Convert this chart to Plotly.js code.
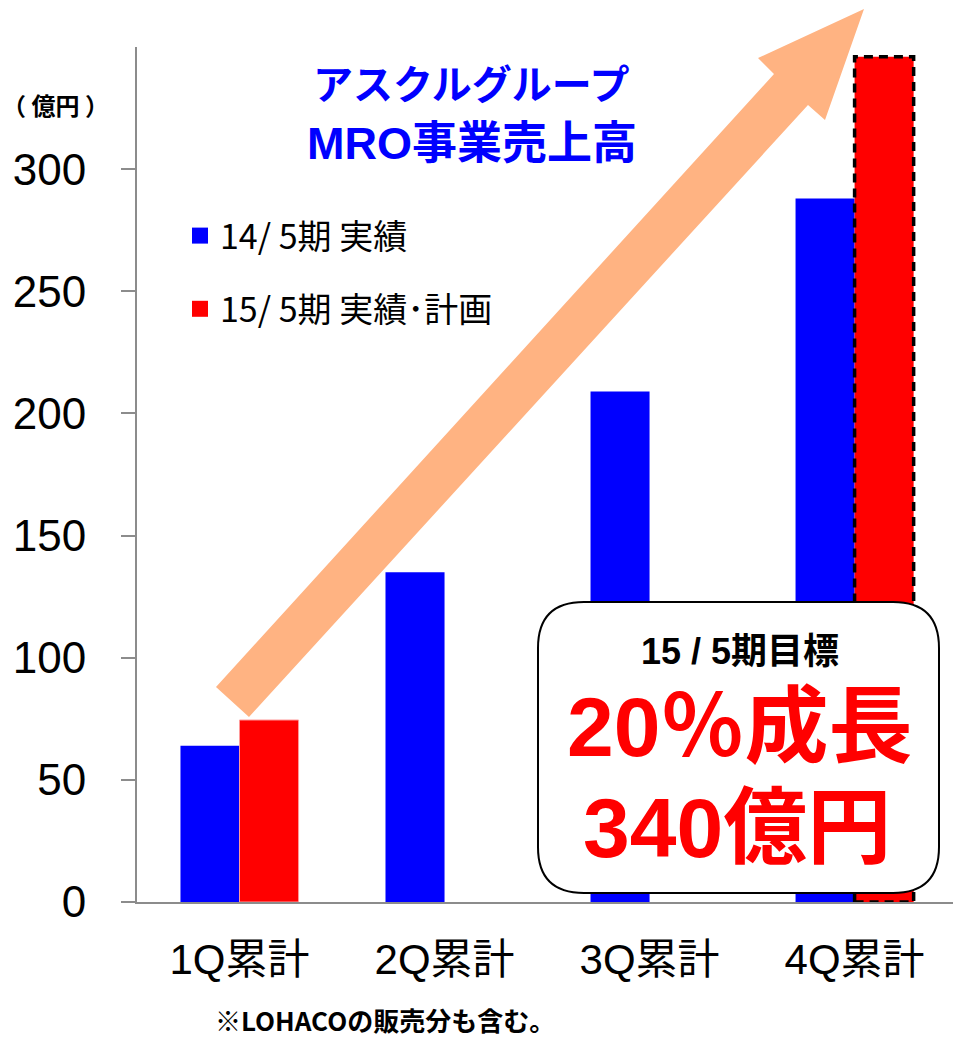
<!DOCTYPE html>
<html>
<head>
<meta charset="utf-8">
<script src="https://cdn.plot.ly/plotly-3.0.1.min.js"></script>
<style>html,body{margin:0;padding:0;background:#fff;}#chart{width:953px;height:1037px;}</style>
</head>
<body>
<div id="chart"></div>
<script>
// ---- data ----
const categories = ["1Q累計", "2Q累計", "3Q累計", "4Q累計"];
const fy14Values = [64, 135, 209, 288];
const fy15Values = [74.5, null, null, 346];
const seriesNames = ["14/ 5期 実績", "15/ 5期 実績･計画"];
const yTicks = [0, 50, 100, 150, 200, 250, 300];

// ---- layout geometry ----
const W = 953, H = 1037;
const M = {l: 137, r: 0, t: 47, b: 135};
const PW = W - M.l - M.r, PH = H - M.t - M.b;
const px = x => (x - M.l) / PW;
const py = y => (M.t + PH - y) / PH;
const P = (x, y) => px(x).toFixed(5) + "," + py(y).toFixed(5);

const bargap = 0.424;
const barW = (1 - bargap) / 2;

const JP = "Noto Sans CJK JP";
const MIX = "Liberation Sans, Noto Sans CJK JP";

const traces = [
  {type: "bar", name: seriesNames[0], x: categories, y: fy14Values,
   marker: {color: "#0000FF", line: {width: 0}}, showlegend: false, hoverinfo: "skip"},
  {type: "bar", name: seriesNames[1], x: categories, y: fy15Values,
   marker: {color: "#FF0000", line: {color: ["#FF9A9A", "#FF0000", "#FF0000", "#FF0000"], width: [1, 0, 0, 0]}},
   showlegend: false, hoverinfo: "skip"},
  {type: "scatter", mode: "markers", name: seriesNames[0], x: [null], y: [null],
   marker: {symbol: "square", size: 16, color: "#0000FF"}, legendgroup: "a"},
  {type: "scatter", mode: "markers", name: seriesNames[1], x: [null], y: [null],
   marker: {symbol: "square", size: 16, color: "#FF0000"}, legendgroup: "b"}
];

// arrow polygon (pixel points)
const arrowPts = [[864, 9], [825, 120], [808, 105], [249, 717], [216, 687], [774, 74], [758, 58]];
const arrowPath = "M" + arrowPts.map(p => P(p[0], p[1])).join(" L") + " Z";

// rounded box
function roundRect(x0, y0, x1, y1, r) {
  return "M" + P(x0 + r, y0) +
    " L" + P(x1 - r, y0) + " Q" + P(x1, y0) + " " + P(x1, y0 + r) +
    " L" + P(x1, y1 - r) + " Q" + P(x1, y1) + " " + P(x1 - r, y1) +
    " L" + P(x0 + r, y1) + " Q" + P(x0, y1) + " " + P(x0, y1 - r) +
    " L" + P(x0, y0 + r) + " Q" + P(x0, y0) + " " + P(x0 + r, y0) + " Z";
}

const shapes = [
  {type: "path", xref: "paper", yref: "paper", path: arrowPath,
   fillcolor: "#FFB382", line: {width: 0}, layer: "above"},
  {type: "rect", xref: "x", yref: "y", x0: 3, x1: 3 + barW, y0: 0, y1: fy15Values[3],
   line: {color: "#000", width: 3.5, dash: "9px,6px"}, fillcolor: "rgba(0,0,0,0)", layer: "above"},
  {type: "path", xref: "paper", yref: "paper", path: roundRect(538, 602, 939, 893, 46),
   fillcolor: "#FFFFFF", line: {color: "#000", width: 2}, layer: "above"}
];

const ann = (text, x, y, size, color, family, extra) => Object.assign({
  text: text, xref: "paper", yref: "paper", x: px(x), y: py(y),
  xanchor: "center", yanchor: "middle", showarrow: false,
  font: {size: size, color: color, family: family}
}, extra || {});

const annotations = [
  ann("<b>アスクルグループ</b>", 471, 85, 40, "#0000FF", MIX),
  ann("<b>MRO事業売上高</b>", 472, 143, 45, "#0000FF", MIX),
  ann("<b>（ 億円 ）</b>", 55, 105, 24, "#000", JP),
  ann("<b>15 / 5期目標</b>", 740, 651, 36, "#000", MIX),
  ann("<b>20％成長</b>", 739, 727, 84, "#FF0000", MIX),
  ann("<b>340億円</b>", 737, 828, 84, "#FF0000", MIX),
  ann("<b>※LOHACOの販売分も含む。</b>", 385, 1019, 26, "#000", JP, {borderpad: 0})
];

const layout = {
  width: W, height: H, margin: M,
  paper_bgcolor: "#fff", plot_bgcolor: "#fff",
  barmode: "group", bargap: bargap, bargroupgap: 0,
  showlegend: true,
  legend: {x: px(180), y: py(207), xanchor: "left", yanchor: "top",
           traceorder: "grouped", tracegroupgap: 26,
           font: {size: 34, family: JP, color: "#000"}, bgcolor: "rgba(0,0,0,0)"},
  xaxis: {type: "category", range: [-0.5, 3.48], showline: true, linecolor: "#8c8c8c", linewidth: 2,
          ticks: "", showgrid: false, zeroline: false,
          tickfont: {size: 42, family: MIX, color: "#000"}, ticklabelstandoff: 20},
  yaxis: {range: [0, 350], tickvals: yTicks, ticktext: yTicks.map(String),
          showline: true, linecolor: "#8c8c8c", linewidth: 2,
          ticks: "outside", ticklen: 14, tickwidth: 2, tickcolor: "#8c8c8c",
          showgrid: false, zeroline: false, ticklabelstandoff: 26,
          tickfont: {size: 44, family: "Liberation Sans", color: "#000"}},
  shapes: shapes, annotations: annotations
};

Plotly.newPlot("chart", traces, layout, {staticPlot: true, displayModeBar: false});
</script>
</body>
</html>
